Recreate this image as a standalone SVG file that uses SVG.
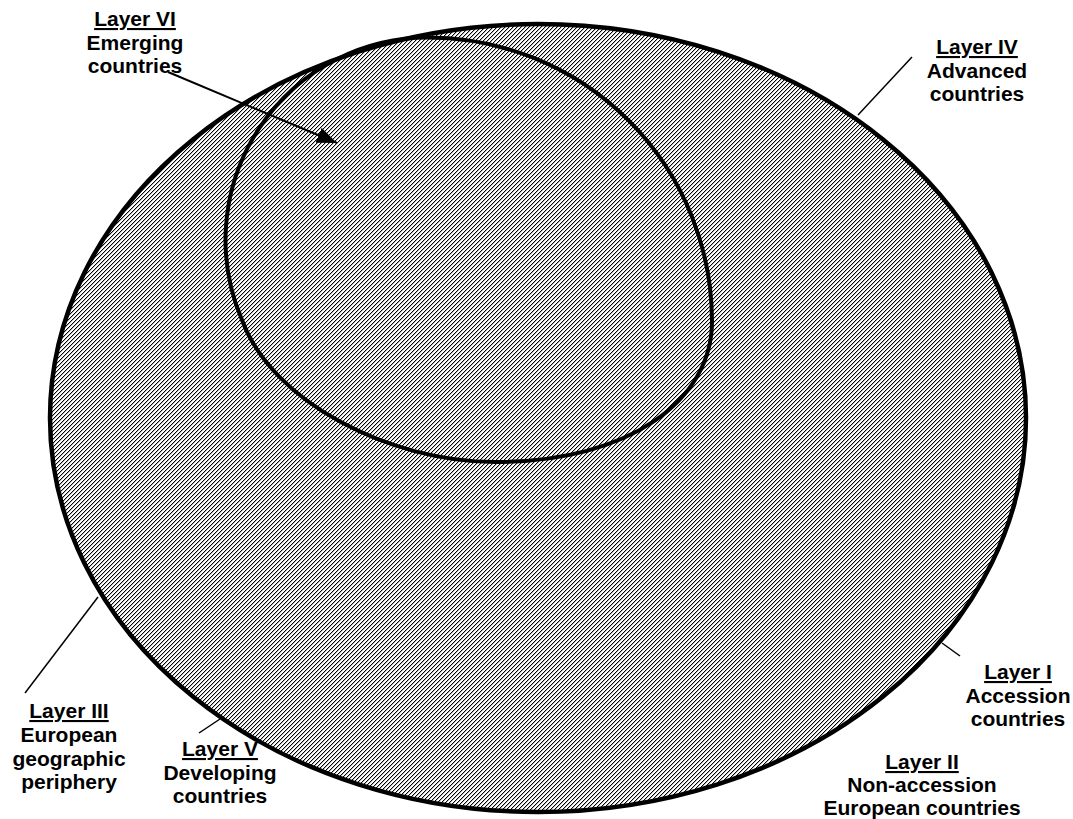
<svg xmlns="http://www.w3.org/2000/svg" width="1073" height="819" viewBox="0 0 1073 819">
<defs>
<pattern id="hatch" patternUnits="userSpaceOnUse" width="4" height="4">
<rect x="0" y="3" width="1" height="1" fill="#000"/>
<rect x="1" y="2" width="1" height="1" fill="#000"/>
<rect x="2" y="1" width="1" height="1" fill="#000"/>
<rect x="3" y="0" width="1" height="1" fill="#000"/>
<rect x="1" y="3" width="1" height="1" fill="#bbb"/>
<rect x="2" y="2" width="1" height="1" fill="#bbb"/>
<rect x="3" y="1" width="1" height="1" fill="#bbb"/>
<rect x="0" y="0" width="1" height="1" fill="#bbb"/>
</pattern>
<marker id="arr" markerWidth="10" markerHeight="8" refX="10" refY="4" orient="auto" markerUnits="strokeWidth">
<path d="M0,0 L10,4 L0,8 Z" fill="#000"/>
</marker>
<style>
text{font-family:"Liberation Sans",Arial,sans-serif;font-weight:bold;font-size:21px;fill:#000;text-anchor:middle}
.u{text-decoration:underline}
.lead{stroke:#000;stroke-width:1.5;fill:none}
</style>
</defs>
<rect width="1073" height="819" fill="#fff"/>
<g id="outer">
<ellipse cx="538" cy="418" rx="488" ry="394" fill="url(#hatch)" stroke="#000" stroke-width="4.5"/>
</g>
<g id="inner">
<path d="M428,37.5 A284,284 0 0,1 712,321.5 C712,400 630,462 495,462 C390,462 272,402 242,320 A202.5,202.5 0 0,1 428,37.5 Z" fill="none" stroke="#000" stroke-width="4"/>
</g>
<g id="connectors">
<line x1="168" y1="72" x2="337" y2="143" stroke="#000" stroke-width="2" marker-end="url(#arr)"/>
<line class="lead" x1="912" y1="57" x2="858" y2="115"/>
<line class="lead" x1="25" y1="693" x2="98" y2="597"/>
<line class="lead" x1="199" y1="733" x2="220" y2="719"/>
<line class="lead" x1="960" y1="656" x2="942" y2="643"/>
</g>
<g id="layer6">
<text x="135" y="26" class="u">Layer VI</text>
<text x="135" y="50">Emerging</text>
<text x="135" y="73">countries</text>
</g>
<g id="layer4">
<text x="977" y="54" class="u">Layer IV</text>
<text x="977" y="78">Advanced</text>
<text x="977" y="101">countries</text>
</g>
<g id="layer3">
<text x="69" y="718" class="u">Layer III</text>
<text x="69" y="742">European</text>
<text x="69" y="766">geographic</text>
<text x="69" y="789">periphery</text>
</g>
<g id="layer5">
<text x="220" y="756" class="u">Layer V</text>
<text x="220" y="780">Developing</text>
<text x="220" y="803">countries</text>
</g>
<g id="layer1">
<text x="1018" y="679" class="u">Layer I</text>
<text x="1018" y="703">Accession</text>
<text x="1018" y="726">countries</text>
</g>
<g id="layer2">
<text x="922" y="769" class="u">Layer II</text>
<text x="922" y="792">Non-accession</text>
<text x="922" y="815">European countries</text>
</g>
</svg>
